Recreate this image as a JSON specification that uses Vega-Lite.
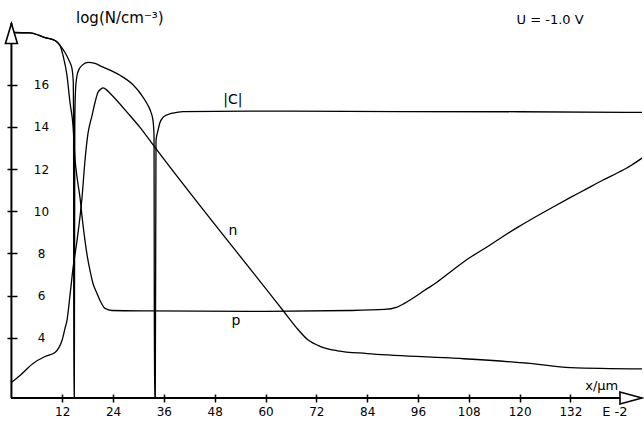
{
  "$schema": "https://vega.github.io/schema/vega-lite/v6.json",
  "width": 631,
  "height": 375,
  "autosize": {"type": "none"},
  "padding": {"left": 11, "top": 23, "right": 2, "bottom": 26},
  "background": "white",
  "config": {"view": {"stroke": null}, "font": "DejaVu Sans"},
  "datasets": {
    "curves": [
      {"s": "C", "i": 0, "x": 0, "y": 18.48},
      {"s": "C", "i": 1, "x": 4.39, "y": 18.46},
      {"s": "C", "i": 2, "x": 7.93, "y": 18.24},
      {"s": "C", "i": 3, "x": 10.29, "y": 18.10},
      {"s": "C", "i": 4, "x": 11.47, "y": 17.87},
      {"s": "C", "i": 5, "x": 12.65, "y": 17.53},
      {"s": "C", "i": 6, "x": 13.6, "y": 17.15},
      {"s": "C", "i": 7, "x": 14.3, "y": 16.77},
      {"s": "C", "i": 8, "x": 14.61, "y": 16.11},
      {"s": "C", "i": 9, "x": 14.68, "y": 14.31},
      {"s": "C", "i": 10, "x": 14.73, "y": 1.14},
      {"s": "C", "i": 11, "x": 14.85, "y": 1.14},
      {"s": "C", "i": 12, "x": 14.97, "y": 14.31},
      {"s": "C", "i": 13, "x": 15.13, "y": 15.73},
      {"s": "C", "i": 14, "x": 15.49, "y": 16.44},
      {"s": "C", "i": 15, "x": 15.96, "y": 16.73},
      {"s": "C", "i": 16, "x": 16.67, "y": 16.92},
      {"s": "C", "i": 17, "x": 18.08, "y": 17.06},
      {"s": "C", "i": 18, "x": 19.74, "y": 17.01},
      {"s": "C", "i": 19, "x": 21.39, "y": 16.86},
      {"s": "C", "i": 20, "x": 25.64, "y": 16.45},
      {"s": "C", "i": 21, "x": 28.71, "y": 16.0},
      {"s": "C", "i": 22, "x": 30.6, "y": 15.55},
      {"s": "C", "i": 23, "x": 32.0, "y": 15.11},
      {"s": "C", "i": 24, "x": 32.96, "y": 14.69},
      {"s": "C", "i": 25, "x": 33.43, "y": 14.31},
      {"s": "C", "i": 26, "x": 33.67, "y": 13.6},
      {"s": "C", "i": 27, "x": 33.78, "y": 1.14},
      {"s": "C", "i": 28, "x": 33.97, "y": 1.14},
      {"s": "C", "i": 29, "x": 34.14, "y": 13.36},
      {"s": "C", "i": 30, "x": 34.61, "y": 13.83},
      {"s": "C", "i": 31, "x": 35.08, "y": 14.21},
      {"s": "C", "i": 32, "x": 35.79, "y": 14.45},
      {"s": "C", "i": 33, "x": 36.97, "y": 14.59},
      {"s": "C", "i": 34, "x": 38.15, "y": 14.66},
      {"s": "C", "i": 35, "x": 40.5, "y": 14.73},
      {"s": "C", "i": 36, "x": 56.0, "y": 14.75},
      {"s": "C", "i": 37, "x": 92.0, "y": 14.73},
      {"s": "C", "i": 38, "x": 120.0, "y": 14.72},
      {"s": "C", "i": 39, "x": 148.9, "y": 14.69},

      {"s": "p", "i": 0, "x": 0, "y": 18.48},
      {"s": "p", "i": 1, "x": 4.39, "y": 18.46},
      {"s": "p", "i": 2, "x": 7.93, "y": 18.24},
      {"s": "p", "i": 3, "x": 10.29, "y": 18.10},
      {"s": "p", "i": 4, "x": 11.47, "y": 17.87},
      {"s": "p", "i": 5, "x": 12.18, "y": 17.39},
      {"s": "p", "i": 6, "x": 13.12, "y": 16.44},
      {"s": "p", "i": 7, "x": 13.83, "y": 15.16},
      {"s": "p", "i": 8, "x": 14.54, "y": 14.07},
      {"s": "p", "i": 9, "x": 15.01, "y": 12.50},
      {"s": "p", "i": 10, "x": 15.6, "y": 11.46},
      {"s": "p", "i": 11, "x": 16.19, "y": 10.65},
      {"s": "p", "i": 12, "x": 16.78, "y": 9.56},
      {"s": "p", "i": 13, "x": 17.37, "y": 8.61},
      {"s": "p", "i": 14, "x": 17.96, "y": 7.81},
      {"s": "p", "i": 15, "x": 18.55, "y": 7.19},
      {"s": "p", "i": 16, "x": 19.26, "y": 6.57},
      {"s": "p", "i": 17, "x": 20.21, "y": 6.10},
      {"s": "p", "i": 18, "x": 21.15, "y": 5.67},
      {"s": "p", "i": 19, "x": 22.1, "y": 5.39},
      {"s": "p", "i": 20, "x": 23.75, "y": 5.29},
      {"s": "p", "i": 21, "x": 32.7, "y": 5.27},
      {"s": "p", "i": 22, "x": 56.3, "y": 5.25},
      {"s": "p", "i": 23, "x": 79.8, "y": 5.29},
      {"s": "p", "i": 24, "x": 88.1, "y": 5.34},
      {"s": "p", "i": 25, "x": 90.9, "y": 5.44},
      {"s": "p", "i": 26, "x": 92.8, "y": 5.63},
      {"s": "p", "i": 27, "x": 94.7, "y": 5.86},
      {"s": "p", "i": 28, "x": 97.5, "y": 6.24},
      {"s": "p", "i": 29, "x": 100.4, "y": 6.62},
      {"s": "p", "i": 30, "x": 104.1, "y": 7.19},
      {"s": "p", "i": 31, "x": 108.1, "y": 7.78},
      {"s": "p", "i": 32, "x": 112.1, "y": 8.28},
      {"s": "p", "i": 33, "x": 115.9, "y": 8.78},
      {"s": "p", "i": 34, "x": 119.9, "y": 9.28},
      {"s": "p", "i": 35, "x": 123.9, "y": 9.75},
      {"s": "p", "i": 36, "x": 127.7, "y": 10.18},
      {"s": "p", "i": 37, "x": 131.7, "y": 10.62},
      {"s": "p", "i": 38, "x": 135.7, "y": 11.05},
      {"s": "p", "i": 39, "x": 139.5, "y": 11.46},
      {"s": "p", "i": 40, "x": 143.5, "y": 11.86},
      {"s": "p", "i": 41, "x": 146.3, "y": 12.17},
      {"s": "p", "i": 42, "x": 148.9, "y": 12.52},

      {"s": "n", "i": 0, "x": 0, "y": 1.88},
      {"s": "n", "i": 1, "x": 2.03, "y": 2.21},
      {"s": "n", "i": 2, "x": 5.1, "y": 2.78},
      {"s": "n", "i": 3, "x": 7.93, "y": 3.11},
      {"s": "n", "i": 4, "x": 10.29, "y": 3.30},
      {"s": "n", "i": 5, "x": 11.24, "y": 3.54},
      {"s": "n", "i": 6, "x": 11.94, "y": 3.87},
      {"s": "n", "i": 7, "x": 12.65, "y": 4.44},
      {"s": "n", "i": 8, "x": 13.12, "y": 4.82},
      {"s": "n", "i": 9, "x": 13.83, "y": 6.01},
      {"s": "n", "i": 10, "x": 14.54, "y": 7.29},
      {"s": "n", "i": 11, "x": 15.49, "y": 8.61},
      {"s": "n", "i": 12, "x": 16.67, "y": 10.65},
      {"s": "n", "i": 13, "x": 17.37, "y": 12.41},
      {"s": "n", "i": 14, "x": 18.08, "y": 13.69},
      {"s": "n", "i": 15, "x": 19.03, "y": 14.54},
      {"s": "n", "i": 16, "x": 19.74, "y": 15.16},
      {"s": "n", "i": 17, "x": 20.44, "y": 15.64},
      {"s": "n", "i": 18, "x": 21.15, "y": 15.80},
      {"s": "n", "i": 19, "x": 21.62, "y": 15.85},
      {"s": "n", "i": 20, "x": 22.33, "y": 15.78},
      {"s": "n", "i": 21, "x": 23.27, "y": 15.60},
      {"s": "n", "i": 22, "x": 27.99, "y": 14.54},
      {"s": "n", "i": 23, "x": 30.36, "y": 13.98},
      {"s": "n", "i": 24, "x": 33.9, "y": 13.03},
      {"s": "n", "i": 25, "x": 64.13, "y": 5.29},
      {"s": "n", "i": 26, "x": 67.2, "y": 4.50},
      {"s": "n", "i": 27, "x": 70.0, "y": 3.90},
      {"s": "n", "i": 28, "x": 73.0, "y": 3.58},
      {"s": "n", "i": 29, "x": 77.0, "y": 3.38},
      {"s": "n", "i": 30, "x": 84.0, "y": 3.25},
      {"s": "n", "i": 31, "x": 103.6, "y": 3.04},
      {"s": "n", "i": 32, "x": 122.4, "y": 2.78},
      {"s": "n", "i": 33, "x": 132.0, "y": 2.58},
      {"s": "n", "i": 34, "x": 148.9, "y": 2.52}
    ],
    "axislines": [
      {"x": 0, "y": 1.14, "x2": 0, "y2": 18.93},
      {"x": -0.1, "y": 1.14, "x2": 148.9, "y2": 1.14}
    ],
    "yarrow": [{"x": 0, "y": 18.43}],
    "xarrow": [{"x": 146.3, "y": 1.14}],
    "curvelabels": [
      {"t": "|C|", "x": 52.3, "y": 15.30},
      {"t": "n", "x": 52.3, "y": 9.04},
      {"t": "p", "x": 53.0, "y": 4.77}
    ],
    "bigtitle": [
      {"t": "log(N/cm⁻³)", "x": 25.6, "y": 19.15}
    ],
    "notes": [
      {"t": "U = -1.0 V", "x": 127.2, "y": 19.05},
      {"t": "x/µm", "x": 139.4, "y": 1.69}
    ],
    "unitnote": [
      {"t": "E  -2", "x": 142.5, "y": 0.48}
    ]
  },
  "encoding": {
    "x": {
      "field": "x",
      "type": "quantitative",
      "scale": {"domain": [-0.1, 148.9], "nice": false, "zero": false},
      "axis": {
        "values": [12, 24, 36, 48, 60, 72, 84, 96, 108, 120, 132],
        "domain": false,
        "grid": false,
        "title": null,
        "offset": -4,
        "tickSize": 8,
        "tickWidth": 1.5,
        "tickColor": "black",
        "labelFont": "DejaVu Sans",
        "labelFontSize": 12,
        "labelColor": "black",
        "labelBaseline": "middle",
        "labelPadding": 9.5,
        "labelFlush": false,
        "labelOverlap": false
      }
    },
    "y": {
      "field": "y",
      "type": "quantitative",
      "scale": {"domain": [1.14, 18.93], "nice": false, "zero": false},
      "axis": {
        "values": [4, 6, 8, 10, 12, 14, 16],
        "domain": false,
        "grid": false,
        "title": null,
        "offset": -6,
        "tickSize": 10,
        "tickWidth": 1.5,
        "tickColor": "black",
        "labelFont": "DejaVu Sans",
        "labelFontSize": 12,
        "labelColor": "black",
        "labelAlign": "center",
        "labelBaseline": "middle",
        "labelPadding": -34,
        "labelFlush": false,
        "labelOverlap": false
      }
    }
  },
  "layer": [
    {
      "data": {"name": "curves"},
      "mark": {"type": "line", "color": "black", "strokeWidth": 1.3, "clip": true, "interpolate": "monotone"},
      "encoding": {
        "detail": {"field": "s", "type": "nominal"},
        "order": {"field": "i", "type": "quantitative"}
      }
    },
    {
      "data": {"name": "axislines"},
      "mark": {"type": "rule", "color": "black", "strokeWidth": 2},
      "encoding": {
        "x2": {"field": "x2"},
        "y2": {"field": "y2"}
      }
    },
    {
      "data": {"name": "yarrow"},
      "mark": {"type": "point", "shape": "M0,-1L0.6,1L-0.6,1Z", "size": 400, "fill": "white", "stroke": "black", "strokeWidth": 1.6, "fillOpacity": 1, "strokeOpacity": 1, "opacity": 1}
    },
    {
      "data": {"name": "xarrow"},
      "mark": {"type": "point", "shape": "M1,0L-1,-0.55L-1,0.55Z", "size": 484, "fill": "white", "stroke": "black", "strokeWidth": 1.6, "fillOpacity": 1, "strokeOpacity": 1, "opacity": 1}
    },
    {
      "data": {"name": "curvelabels"},
      "mark": {"type": "text", "font": "DejaVu Sans", "fontSize": 14, "color": "black", "align": "center", "baseline": "middle"},
      "encoding": {"text": {"field": "t"}}
    },
    {
      "data": {"name": "bigtitle"},
      "mark": {"type": "text", "font": "DejaVu Sans", "fontSize": 15, "color": "black", "align": "center", "baseline": "middle"},
      "encoding": {"text": {"field": "t"}}
    },
    {
      "data": {"name": "notes"},
      "mark": {"type": "text", "font": "DejaVu Sans", "fontSize": 13, "color": "black", "align": "center", "baseline": "middle"},
      "encoding": {"text": {"field": "t"}}
    },
    {
      "data": {"name": "unitnote"},
      "mark": {"type": "text", "font": "DejaVu Sans", "fontSize": 13, "color": "black", "align": "center", "baseline": "middle"},
      "encoding": {"text": {"field": "t"}}
    }
  ]
}
